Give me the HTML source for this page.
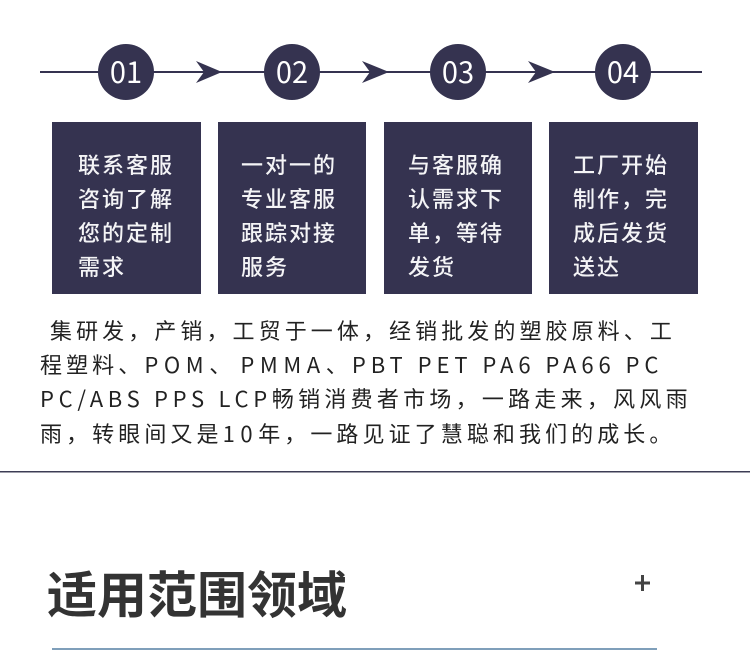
<!DOCTYPE html>
<html lang="zh"><head><meta charset="utf-8">
<style>
html,body{margin:0;padding:0;width:750px;height:656px;overflow:hidden;background:#fff}
body{position:relative;font-family:"Liberation Sans","Noto Sans CJK SC",sans-serif}
.c{position:absolute;top:44px;width:56px;height:56px;border-radius:50%;background:#353350;color:#fff;font:29px/54px "Noto Sans CJK SC",sans-serif;text-align:center}
.b{position:absolute;top:122px;height:172px;background:#353350}
.t{position:absolute;color:#f4f4f6;font:22px/34px "Noto Sans CJK SC",sans-serif;font-weight:500;letter-spacing:2px;white-space:nowrap}
.p{position:absolute;left:40px;color:#222;font:22px/34px "Noto Sans CJK SC",sans-serif;letter-spacing:4.08px;white-space:nowrap}
.l{letter-spacing:5.6px}
svg{position:absolute;left:0;top:0}
</style></head><body>
<svg width="750" height="656">
<rect x="40" y="71" width="662" height="2" fill="#353350"/>
<polygon points="196,61 222,72 196,83 204,72" fill="#353350"/>
<polygon points="362,61 389,72 362,83 370,72" fill="#353350"/>
<polygon points="528,61 555,72 528,83 536,72" fill="#353350"/>
<rect x="0" y="471" width="750" height="1.5" fill="#3c3c55"/>
<rect x="52" y="648" width="605" height="2" fill="#7f9fba"/>
<rect x="635" y="581.5" width="15" height="3" fill="#444"/>
<rect x="641" y="575" width="3" height="16" fill="#444"/>
</svg>
<div class="c" style="left:98px">01</div>
<div class="c" style="left:264px">02</div>
<div class="c" style="left:430px">03</div>
<div class="c" style="left:595px">04</div>
<div class="b" style="left:52px;width:149px"></div>
<div class="b" style="left:218px;width:148px"></div>
<div class="b" style="left:384px;width:148px"></div>
<div class="b" style="left:549px;width:149px"></div>
<div class="t" style="left:78px;top:147px">联系客服<br>咨询了解<br>您的定制<br>需求</div>
<div class="t" style="left:241px;top:147px">一对一的<br>专业客服<br>跟踪对接<br>服务</div>
<div class="t" style="left:408px;top:147px">与客服确<br>认需求下<br>单，等待<br>发货</div>
<div class="t" style="left:573px;top:147px">工厂开始<br>制作，完<br>成后发货<br>送达</div>
<div class="p" style="left:50px;top:313px">集研发，产销，工贸于一体，经销批发的塑胶原料、工</div>
<div class="p" style="top:347px">程塑料、<span class="l">POM</span>、<span class="l" style="margin-left:5px">PMMA</span>、<span class="l" style="letter-spacing:4.95px">PBT PET PA6 PA66 PC</span></div>
<div class="p" style="top:381px;letter-spacing:4.25px"><span class="l" style="letter-spacing:4.7px">PC/ABS PPS LCP</span>畅销消费者市场，一路走来，风风雨</div>
<div class="p" style="top:416px">雨，转眼间又是<span class="l">10</span>年，一路见证了慧聪和我们的成长。</div>
<div style="position:absolute;left:47px;top:556px;color:#333;font:bold 50px/72px 'Noto Sans CJK SC',sans-serif;white-space:nowrap">适用范围领域</div>
</body></html>
